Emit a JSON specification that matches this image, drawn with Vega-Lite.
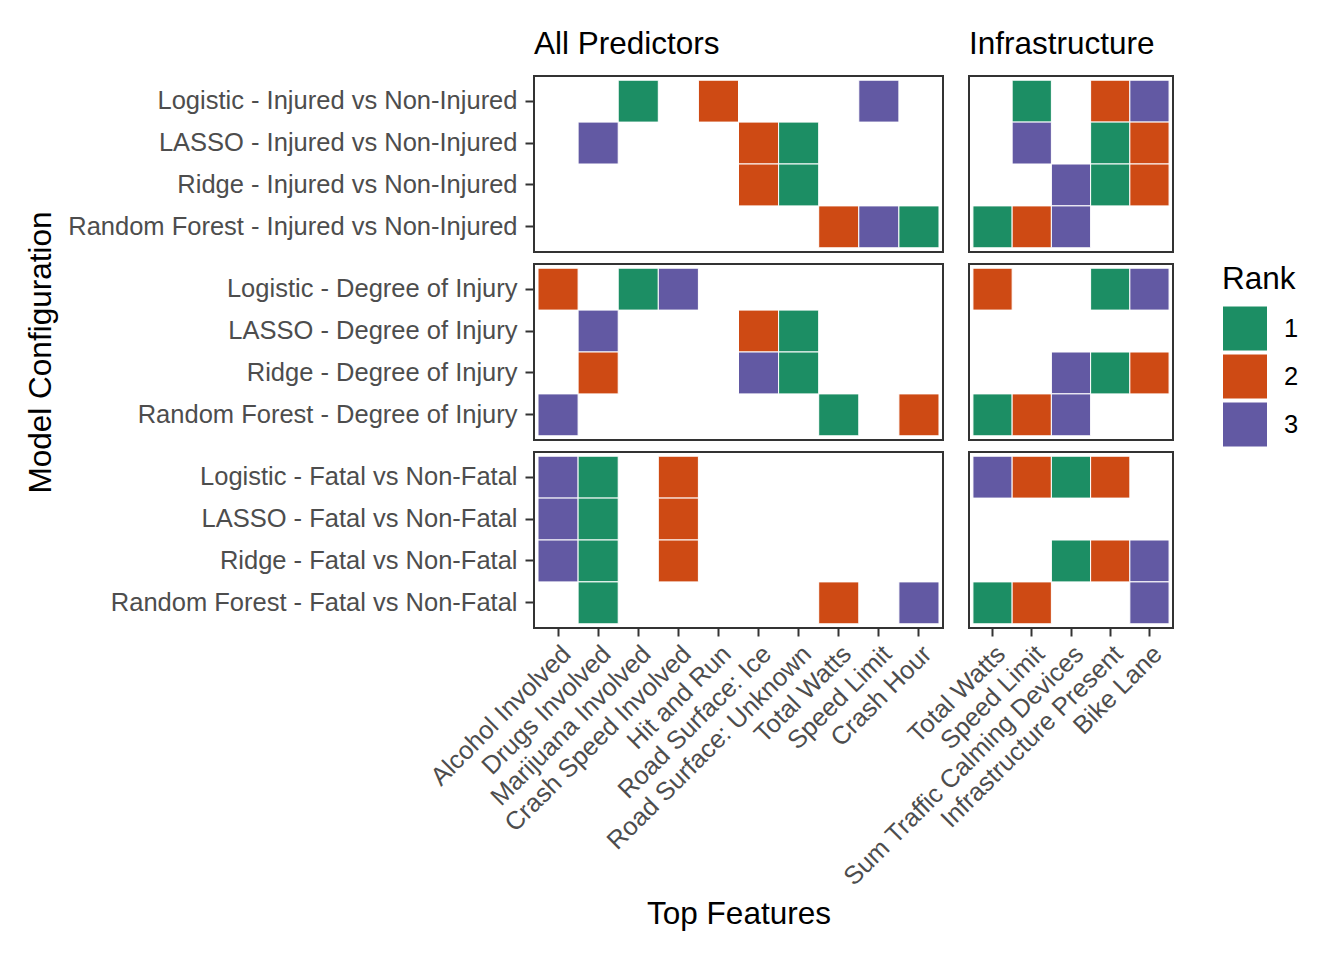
{
  "$schema": "https://vega.github.io/schema/vega-lite/v6.json",
  "padding": {"left": 23, "top": 27, "right": 5, "bottom": 5},
  "background": "white",
  "config": {
    "font": "Liberation Sans",
    "view": {"stroke": "#333333", "strokeWidth": 2},
    "axis": {"grid": false, "domain": false, "tickColor": "#333333", "tickWidth": 2, "tickSize": 9, "labelColor": "#4D4D4D", "labelFontSize": 25.5, "labelPadding": 5, "labelLimit": 0, "titleColor": "black", "titleFontSize": 31.5, "titleFontWeight": "normal", "labelFont": "Liberation Sans", "titleFont": "Liberation Sans"},
    "axisY": {"labelPadding": 8},
    "axisX": {"tickSize": 8},
    "title": {"fontSize": 31.5, "fontWeight": "normal", "color": "black", "anchor": "start", "frame": "group", "baseline": "alphabetic", "offset": 16, "font": "Liberation Sans"},
    "legend": {"titleFontSize": 31.5, "titleFontWeight": "normal", "titleColor": "black", "labelFontSize": 25.5, "labelColor": "black", "symbolType": "square", "symbolSize": 2025, "symbolStrokeColor": "white", "symbolStrokeWidth": 1, "symbolOpacity": 1, "rowPadding": -6, "labelOffset": 16, "titlePadding": 10}
  },
  "datasets": {
    "ranks": [
      {"set": "All Predictors", "outcome": "Injured", "config": "Logistic - Injured vs Non-Injured", "feature": "Marijuana Involved", "rank": "1"},
      {"set": "All Predictors", "outcome": "Injured", "config": "Logistic - Injured vs Non-Injured", "feature": "Hit and Run", "rank": "2"},
      {"set": "All Predictors", "outcome": "Injured", "config": "Logistic - Injured vs Non-Injured", "feature": "Speed Limit", "rank": "3"},
      {"set": "All Predictors", "outcome": "Injured", "config": "LASSO - Injured vs Non-Injured", "feature": "Drugs Involved", "rank": "3"},
      {"set": "All Predictors", "outcome": "Injured", "config": "LASSO - Injured vs Non-Injured", "feature": "Road Surface: Ice", "rank": "2"},
      {"set": "All Predictors", "outcome": "Injured", "config": "LASSO - Injured vs Non-Injured", "feature": "Road Surface: Unknown", "rank": "1"},
      {"set": "All Predictors", "outcome": "Injured", "config": "Ridge - Injured vs Non-Injured", "feature": "Road Surface: Ice", "rank": "2"},
      {"set": "All Predictors", "outcome": "Injured", "config": "Ridge - Injured vs Non-Injured", "feature": "Road Surface: Unknown", "rank": "1"},
      {"set": "All Predictors", "outcome": "Injured", "config": "Random Forest - Injured vs Non-Injured", "feature": "Total Watts", "rank": "2"},
      {"set": "All Predictors", "outcome": "Injured", "config": "Random Forest - Injured vs Non-Injured", "feature": "Speed Limit", "rank": "3"},
      {"set": "All Predictors", "outcome": "Injured", "config": "Random Forest - Injured vs Non-Injured", "feature": "Crash Hour", "rank": "1"},

      {"set": "All Predictors", "outcome": "Degree", "config": "Logistic - Degree of Injury", "feature": "Alcohol Involved", "rank": "2"},
      {"set": "All Predictors", "outcome": "Degree", "config": "Logistic - Degree of Injury", "feature": "Marijuana Involved", "rank": "1"},
      {"set": "All Predictors", "outcome": "Degree", "config": "Logistic - Degree of Injury", "feature": "Crash Speed Involved", "rank": "3"},
      {"set": "All Predictors", "outcome": "Degree", "config": "LASSO - Degree of Injury", "feature": "Drugs Involved", "rank": "3"},
      {"set": "All Predictors", "outcome": "Degree", "config": "LASSO - Degree of Injury", "feature": "Road Surface: Ice", "rank": "2"},
      {"set": "All Predictors", "outcome": "Degree", "config": "LASSO - Degree of Injury", "feature": "Road Surface: Unknown", "rank": "1"},
      {"set": "All Predictors", "outcome": "Degree", "config": "Ridge - Degree of Injury", "feature": "Drugs Involved", "rank": "2"},
      {"set": "All Predictors", "outcome": "Degree", "config": "Ridge - Degree of Injury", "feature": "Road Surface: Ice", "rank": "3"},
      {"set": "All Predictors", "outcome": "Degree", "config": "Ridge - Degree of Injury", "feature": "Road Surface: Unknown", "rank": "1"},
      {"set": "All Predictors", "outcome": "Degree", "config": "Random Forest - Degree of Injury", "feature": "Alcohol Involved", "rank": "3"},
      {"set": "All Predictors", "outcome": "Degree", "config": "Random Forest - Degree of Injury", "feature": "Total Watts", "rank": "1"},
      {"set": "All Predictors", "outcome": "Degree", "config": "Random Forest - Degree of Injury", "feature": "Crash Hour", "rank": "2"},

      {"set": "All Predictors", "outcome": "Fatal", "config": "Logistic - Fatal vs Non-Fatal", "feature": "Alcohol Involved", "rank": "3"},
      {"set": "All Predictors", "outcome": "Fatal", "config": "Logistic - Fatal vs Non-Fatal", "feature": "Drugs Involved", "rank": "1"},
      {"set": "All Predictors", "outcome": "Fatal", "config": "Logistic - Fatal vs Non-Fatal", "feature": "Crash Speed Involved", "rank": "2"},
      {"set": "All Predictors", "outcome": "Fatal", "config": "LASSO - Fatal vs Non-Fatal", "feature": "Alcohol Involved", "rank": "3"},
      {"set": "All Predictors", "outcome": "Fatal", "config": "LASSO - Fatal vs Non-Fatal", "feature": "Drugs Involved", "rank": "1"},
      {"set": "All Predictors", "outcome": "Fatal", "config": "LASSO - Fatal vs Non-Fatal", "feature": "Crash Speed Involved", "rank": "2"},
      {"set": "All Predictors", "outcome": "Fatal", "config": "Ridge - Fatal vs Non-Fatal", "feature": "Alcohol Involved", "rank": "3"},
      {"set": "All Predictors", "outcome": "Fatal", "config": "Ridge - Fatal vs Non-Fatal", "feature": "Drugs Involved", "rank": "1"},
      {"set": "All Predictors", "outcome": "Fatal", "config": "Ridge - Fatal vs Non-Fatal", "feature": "Crash Speed Involved", "rank": "2"},
      {"set": "All Predictors", "outcome": "Fatal", "config": "Random Forest - Fatal vs Non-Fatal", "feature": "Drugs Involved", "rank": "1"},
      {"set": "All Predictors", "outcome": "Fatal", "config": "Random Forest - Fatal vs Non-Fatal", "feature": "Total Watts", "rank": "2"},
      {"set": "All Predictors", "outcome": "Fatal", "config": "Random Forest - Fatal vs Non-Fatal", "feature": "Crash Hour", "rank": "3"},

      {"set": "Infrastructure", "outcome": "Injured", "config": "Logistic - Injured vs Non-Injured", "feature": "Speed Limit", "rank": "1"},
      {"set": "Infrastructure", "outcome": "Injured", "config": "Logistic - Injured vs Non-Injured", "feature": "Infrastructure Present", "rank": "2"},
      {"set": "Infrastructure", "outcome": "Injured", "config": "Logistic - Injured vs Non-Injured", "feature": "Bike Lane", "rank": "3"},
      {"set": "Infrastructure", "outcome": "Injured", "config": "LASSO - Injured vs Non-Injured", "feature": "Speed Limit", "rank": "3"},
      {"set": "Infrastructure", "outcome": "Injured", "config": "LASSO - Injured vs Non-Injured", "feature": "Infrastructure Present", "rank": "1"},
      {"set": "Infrastructure", "outcome": "Injured", "config": "LASSO - Injured vs Non-Injured", "feature": "Bike Lane", "rank": "2"},
      {"set": "Infrastructure", "outcome": "Injured", "config": "Ridge - Injured vs Non-Injured", "feature": "Sum Traffic Calming Devices", "rank": "3"},
      {"set": "Infrastructure", "outcome": "Injured", "config": "Ridge - Injured vs Non-Injured", "feature": "Infrastructure Present", "rank": "1"},
      {"set": "Infrastructure", "outcome": "Injured", "config": "Ridge - Injured vs Non-Injured", "feature": "Bike Lane", "rank": "2"},
      {"set": "Infrastructure", "outcome": "Injured", "config": "Random Forest - Injured vs Non-Injured", "feature": "Total Watts", "rank": "1"},
      {"set": "Infrastructure", "outcome": "Injured", "config": "Random Forest - Injured vs Non-Injured", "feature": "Speed Limit", "rank": "2"},
      {"set": "Infrastructure", "outcome": "Injured", "config": "Random Forest - Injured vs Non-Injured", "feature": "Sum Traffic Calming Devices", "rank": "3"},

      {"set": "Infrastructure", "outcome": "Degree", "config": "Logistic - Degree of Injury", "feature": "Total Watts", "rank": "2"},
      {"set": "Infrastructure", "outcome": "Degree", "config": "Logistic - Degree of Injury", "feature": "Infrastructure Present", "rank": "1"},
      {"set": "Infrastructure", "outcome": "Degree", "config": "Logistic - Degree of Injury", "feature": "Bike Lane", "rank": "3"},
      {"set": "Infrastructure", "outcome": "Degree", "config": "Ridge - Degree of Injury", "feature": "Sum Traffic Calming Devices", "rank": "3"},
      {"set": "Infrastructure", "outcome": "Degree", "config": "Ridge - Degree of Injury", "feature": "Infrastructure Present", "rank": "1"},
      {"set": "Infrastructure", "outcome": "Degree", "config": "Ridge - Degree of Injury", "feature": "Bike Lane", "rank": "2"},
      {"set": "Infrastructure", "outcome": "Degree", "config": "Random Forest - Degree of Injury", "feature": "Total Watts", "rank": "1"},
      {"set": "Infrastructure", "outcome": "Degree", "config": "Random Forest - Degree of Injury", "feature": "Speed Limit", "rank": "2"},
      {"set": "Infrastructure", "outcome": "Degree", "config": "Random Forest - Degree of Injury", "feature": "Sum Traffic Calming Devices", "rank": "3"},

      {"set": "Infrastructure", "outcome": "Fatal", "config": "Logistic - Fatal vs Non-Fatal", "feature": "Total Watts", "rank": "3"},
      {"set": "Infrastructure", "outcome": "Fatal", "config": "Logistic - Fatal vs Non-Fatal", "feature": "Speed Limit", "rank": "2"},
      {"set": "Infrastructure", "outcome": "Fatal", "config": "Logistic - Fatal vs Non-Fatal", "feature": "Sum Traffic Calming Devices", "rank": "1"},
      {"set": "Infrastructure", "outcome": "Fatal", "config": "Logistic - Fatal vs Non-Fatal", "feature": "Infrastructure Present", "rank": "2"},
      {"set": "Infrastructure", "outcome": "Fatal", "config": "Ridge - Fatal vs Non-Fatal", "feature": "Sum Traffic Calming Devices", "rank": "1"},
      {"set": "Infrastructure", "outcome": "Fatal", "config": "Ridge - Fatal vs Non-Fatal", "feature": "Infrastructure Present", "rank": "2"},
      {"set": "Infrastructure", "outcome": "Fatal", "config": "Ridge - Fatal vs Non-Fatal", "feature": "Bike Lane", "rank": "3"},
      {"set": "Infrastructure", "outcome": "Fatal", "config": "Random Forest - Fatal vs Non-Fatal", "feature": "Total Watts", "rank": "1"},
      {"set": "Infrastructure", "outcome": "Fatal", "config": "Random Forest - Fatal vs Non-Fatal", "feature": "Speed Limit", "rank": "2"},
      {"set": "Infrastructure", "outcome": "Fatal", "config": "Random Forest - Fatal vs Non-Fatal", "feature": "Bike Lane", "rank": "3"}
    ]
  },
  "columns": 2,
  "align": "each",
  "bounds": "flush",
  "spacing": {"row": 12, "column": 26},
  "concat": [
    {
      "title": {"text": "All Predictors"},
      "data": {"name": "ranks"},
      "transform": [{"filter": "datum.set === 'All Predictors' && datum.outcome === 'Injured'"}],
      "width": 409, "height": 176,
      "mark": {"type": "rect", "stroke": "white", "strokeWidth": 1},
      "encoding": {
        "x": {"field": "feature", "type": "nominal", "axis": null, "scale": {"domain": ["Alcohol Involved", "Drugs Involved", "Marijuana Involved", "Crash Speed Involved", "Hit and Run", "Road Surface: Ice", "Road Surface: Unknown", "Total Watts", "Speed Limit", "Crash Hour"], "paddingInner": 0, "paddingOuter": 0.1}},
        "y": {"field": "config", "type": "nominal", "axis": {"title": null}, "scale": {"domain": ["Logistic - Injured vs Non-Injured", "LASSO - Injured vs Non-Injured", "Ridge - Injured vs Non-Injured", "Random Forest - Injured vs Non-Injured"], "paddingInner": 0, "paddingOuter": 0.1}},
        "color": {"field": "rank", "type": "nominal", "title": "Rank", "scale": {"domain": ["1", "2", "3"], "range": ["#1C8E64", "#CE4A14", "#6259A3"]}, "legend": {"orient": "none", "legendX": 688, "legendY": 188}}
      }
    },
    {
      "title": {"text": "Infrastructure"},
      "data": {"name": "ranks"},
      "transform": [{"filter": "datum.set === 'Infrastructure' && datum.outcome === 'Injured'"}],
      "width": 204, "height": 176,
      "mark": {"type": "rect", "stroke": "white", "strokeWidth": 1},
      "encoding": {
        "x": {"field": "feature", "type": "nominal", "axis": null, "scale": {"domain": ["Total Watts", "Speed Limit", "Sum Traffic Calming Devices", "Infrastructure Present", "Bike Lane"], "paddingInner": 0, "paddingOuter": 0.1}},
        "y": {"field": "config", "type": "nominal", "axis": null, "scale": {"domain": ["Logistic - Injured vs Non-Injured", "LASSO - Injured vs Non-Injured", "Ridge - Injured vs Non-Injured", "Random Forest - Injured vs Non-Injured"], "paddingInner": 0, "paddingOuter": 0.1}},
        "color": {"field": "rank", "type": "nominal", "title": "Rank", "scale": {"domain": ["1", "2", "3"], "range": ["#1C8E64", "#CE4A14", "#6259A3"]}}
      }
    },
    {
      "data": {"name": "ranks"},
      "transform": [{"filter": "datum.set === 'All Predictors' && datum.outcome === 'Degree'"}],
      "width": 409, "height": 176,
      "mark": {"type": "rect", "stroke": "white", "strokeWidth": 1},
      "encoding": {
        "x": {"field": "feature", "type": "nominal", "axis": null, "scale": {"domain": ["Alcohol Involved", "Drugs Involved", "Marijuana Involved", "Crash Speed Involved", "Hit and Run", "Road Surface: Ice", "Road Surface: Unknown", "Total Watts", "Speed Limit", "Crash Hour"], "paddingInner": 0, "paddingOuter": 0.1}},
        "y": {"field": "config", "type": "nominal", "axis": {"title": "Model Configuration", "titleX": -484, "titleBaseline": "alphabetic"}, "scale": {"domain": ["Logistic - Degree of Injury", "LASSO - Degree of Injury", "Ridge - Degree of Injury", "Random Forest - Degree of Injury"], "paddingInner": 0, "paddingOuter": 0.1}},
        "color": {"field": "rank", "type": "nominal", "title": "Rank", "scale": {"domain": ["1", "2", "3"], "range": ["#1C8E64", "#CE4A14", "#6259A3"]}}
      }
    },
    {
      "data": {"name": "ranks"},
      "transform": [{"filter": "datum.set === 'Infrastructure' && datum.outcome === 'Degree'"}],
      "width": 204, "height": 176,
      "mark": {"type": "rect", "stroke": "white", "strokeWidth": 1},
      "encoding": {
        "x": {"field": "feature", "type": "nominal", "axis": null, "scale": {"domain": ["Total Watts", "Speed Limit", "Sum Traffic Calming Devices", "Infrastructure Present", "Bike Lane"], "paddingInner": 0, "paddingOuter": 0.1}},
        "y": {"field": "config", "type": "nominal", "axis": null, "scale": {"domain": ["Logistic - Degree of Injury", "LASSO - Degree of Injury", "Ridge - Degree of Injury", "Random Forest - Degree of Injury"], "paddingInner": 0, "paddingOuter": 0.1}},
        "color": {"field": "rank", "type": "nominal", "title": "Rank", "scale": {"domain": ["1", "2", "3"], "range": ["#1C8E64", "#CE4A14", "#6259A3"]}}
      }
    },
    {
      "data": {"name": "ranks"},
      "transform": [{"filter": "datum.set === 'All Predictors' && datum.outcome === 'Fatal'"}],
      "width": 409, "height": 176,
      "mark": {"type": "rect", "stroke": "white", "strokeWidth": 1},
      "encoding": {
        "x": {"field": "feature", "type": "nominal", "axis": {"title": "Top Features", "labelAngle": -45, "titleY": 295, "titleBaseline": "alphabetic"}, "scale": {"domain": ["Alcohol Involved", "Drugs Involved", "Marijuana Involved", "Crash Speed Involved", "Hit and Run", "Road Surface: Ice", "Road Surface: Unknown", "Total Watts", "Speed Limit", "Crash Hour"], "paddingInner": 0, "paddingOuter": 0.1}},
        "y": {"field": "config", "type": "nominal", "axis": {"title": null}, "scale": {"domain": ["Logistic - Fatal vs Non-Fatal", "LASSO - Fatal vs Non-Fatal", "Ridge - Fatal vs Non-Fatal", "Random Forest - Fatal vs Non-Fatal"], "paddingInner": 0, "paddingOuter": 0.1}},
        "color": {"field": "rank", "type": "nominal", "title": "Rank", "scale": {"domain": ["1", "2", "3"], "range": ["#1C8E64", "#CE4A14", "#6259A3"]}}
      }
    },
    {
      "data": {"name": "ranks"},
      "transform": [{"filter": "datum.set === 'Infrastructure' && datum.outcome === 'Fatal'"}],
      "width": 204, "height": 176,
      "mark": {"type": "rect", "stroke": "white", "strokeWidth": 1},
      "encoding": {
        "x": {"field": "feature", "type": "nominal", "axis": {"title": null, "labelAngle": -45}, "scale": {"domain": ["Total Watts", "Speed Limit", "Sum Traffic Calming Devices", "Infrastructure Present", "Bike Lane"], "paddingInner": 0, "paddingOuter": 0.1}},
        "y": {"field": "config", "type": "nominal", "axis": null, "scale": {"domain": ["Logistic - Fatal vs Non-Fatal", "LASSO - Fatal vs Non-Fatal", "Ridge - Fatal vs Non-Fatal", "Random Forest - Fatal vs Non-Fatal"], "paddingInner": 0, "paddingOuter": 0.1}},
        "color": {"field": "rank", "type": "nominal", "title": "Rank", "scale": {"domain": ["1", "2", "3"], "range": ["#1C8E64", "#CE4A14", "#6259A3"]}}
      }
    }
  ]
}
